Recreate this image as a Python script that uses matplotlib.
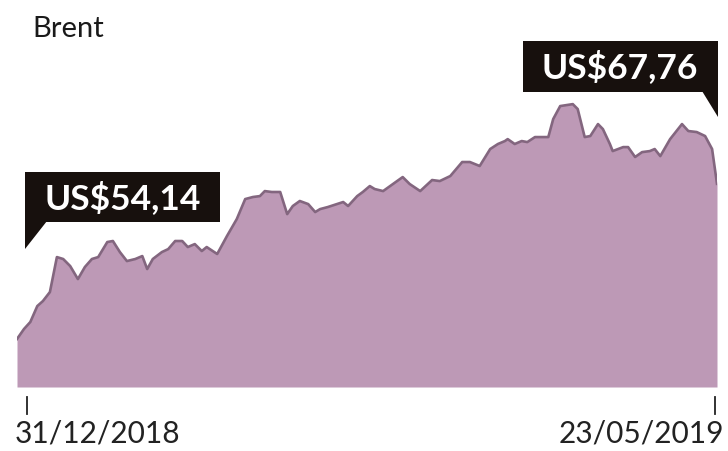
import matplotlib
matplotlib.use("Agg")
import matplotlib.pyplot as plt
from matplotlib.patches import Polygon

# Brent crude, daily close (US$), trading-day index from 31/12/2018
days = [0, 1, 1.9, 2.9, 3.7, 4.7, 5.7, 6.6, 7.6, 8.7, 9.7, 10.7, 11.6, 12.9, 13.7,
        14.7, 15.7, 16.9, 17.9, 18.6, 19.4, 20.7, 21.6, 22.6, 23.6, 24.4, 25.4,
        26.4, 27.1, 28.6, 30, 31.4, 32.6, 33.7, 34.7, 35.4, 36.4, 37.6, 38.6,
        39.4, 40.4, 41.6, 42.6, 43.3, 44.4, 45.7, 46.6, 47.3, 48.6, 49.4, 50.4,
        51.1, 52.3, 53.3, 54.3, 55.1, 56.1, 57.6, 59.3, 60.4, 61.9, 63.6, 64.7,
        66.1, 67.6, 68.7, 69.7, 70.1, 71.1, 72.1, 72.9, 74, 75.9, 76.6, 77.6,
        79.4, 80.1, 81.1, 81.9, 83, 83.7, 84.7, 85.1, 86.6, 87.3, 88.3, 89.3,
        90.4, 91.1, 91.9, 93.3, 95, 95.9, 97.1, 98.3, 99.3, 100]
prices = [54.14, 55.02, 55.63, 57.03, 57.47, 58.26, 61.33, 61.16, 60.54, 59.40,
          60.46, 61.16, 61.33, 62.65, 62.74, 61.77, 60.98, 61.16, 61.42, 60.28,
          61.16, 61.77, 62.03, 62.74, 62.74, 62.21, 62.47, 61.86, 62.21, 61.60,
          63.18, 64.67, 66.42, 66.60, 66.68, 67.12, 67.04, 67.04, 65.10, 65.81,
          66.25, 65.98, 65.28, 65.54, 65.72, 65.98, 66.16, 65.81, 66.68, 67.04,
          67.56, 67.30, 67.12, 67.56, 68.00, 68.35, 67.74, 67.12, 68.09, 68.00,
          68.44, 69.67, 69.67, 69.32, 70.81, 71.25, 71.51, 71.68, 71.25, 71.51,
          71.42, 71.86, 71.86, 73.44, 74.58, 74.75, 74.32, 71.86, 71.95, 73.00,
          72.56, 71.25, 70.63, 70.98, 70.98, 70.11, 70.54, 70.63, 70.81, 70.19,
          71.68, 73.00, 72.39, 72.30, 71.95, 70.81, 67.76]

start_label = "31/12/2018"
end_label = "23/05/2019"
first_label = "US$54,14"
last_label = "US$67,76"

W, H = 728, 452
FONT = "Lato"
fill_color = "#bd99b6"
line_color = "#83667f"
box_color = "#17100d"

fig = plt.figure(figsize=(W / 100, H / 100), dpi=100)
ax = fig.add_axes([17 / W, 64 / H, 700 / W, 288 / H])
ax.fill_between(days, prices, 49.93, color=fill_color, lw=0)
ax.plot(days, prices, color=line_color, lw=1.9, solid_joinstyle="round")
ax.set_xlim(days[0], days[-1])
ax.set_ylim(49.93, 75.2)
ax.axis("off")


def px(x, y):
    return (x / W, 1 - y / H)


def callout(box, tip, text, cx, cy):
    x0, y0, x1, y1 = box
    rect = Polygon([px(x0, y0), px(x1, y0), px(x1, y1), px(x0, y1)],
                   closed=True, transform=fig.transFigure, color=box_color, lw=0)
    fig.patches.append(rect)
    tri = Polygon([px(*p) for p in tip], closed=True,
                  transform=fig.transFigure, color=box_color, lw=0)
    fig.patches.append(tri)
    fig.text(*px(cx, cy), text, color="white", fontsize=25.5, fontweight="bold",
             family=FONT, ha="center", va="center")


callout((25, 173, 220, 223), [(25, 222), (47, 222), (25, 250)], first_label, 123, 198)
callout((523, 42, 718, 93), [(718, 92), (702, 92), (718, 118)], last_label, 620, 67)

fig.text(*px(32, 29), "Brent", fontsize=21, family=FONT, color="#1a1a1a",
         ha="left", va="center")

# tick marks under the axis
for x in (1.4, 99.7):
    ax.plot([x, x], [-0.035, -0.094], transform=ax.get_xaxis_transform(),
            color="#222222", lw=1.3, clip_on=False)

fig.text(*px(15, 434), start_label, fontsize=21.5, family=FONT, color="#222222",
         ha="left", va="center")
fig.text(*px(724, 434), end_label, fontsize=21.5, family=FONT, color="#222222",
         ha="right", va="center")

fig.savefig("out.png", dpi=100, facecolor="white")
